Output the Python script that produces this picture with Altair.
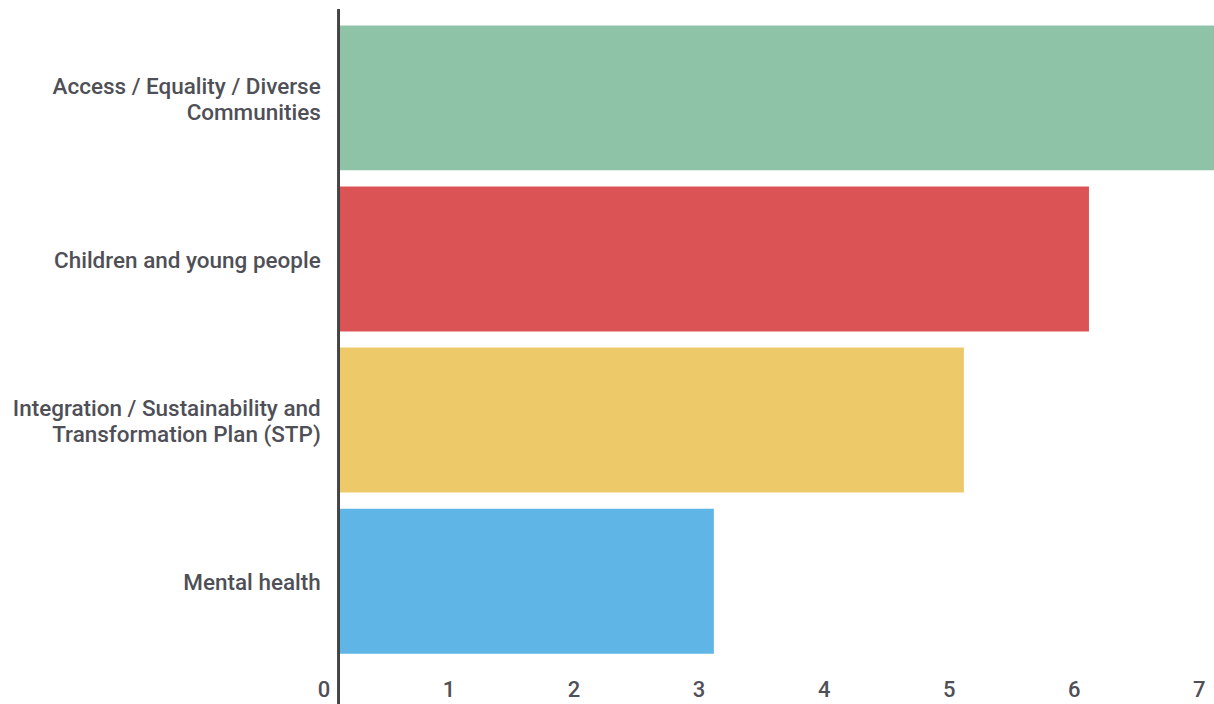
import altair as alt
import pandas as pd

categories = [
    "Access / Equality / Diverse Communities",
    "Children and young people",
    "Integration / Sustainability and Transformation Plan (STP)",
    "Mental health",
]
label_lines = [
    ["Access / Equality / Diverse", "Communities"],
    ["Children and young people"],
    ["Integration / Sustainability and", "Transformation Plan (STP)"],
    ["Mental health"],
]
values = [7, 6, 5, 3]
colors = ["#8fc3a7", "#dc5355", "#edc96a", "#5fb5e5"]
x_ticks = [0, 1, 2, 3, 4, 5, 6, 7]

df = pd.DataFrame({"category": categories, "value": values,
                   "lines": label_lines,
                   "nlines": [len(l) for l in label_lines]})

FONT = "Roboto"
FS = 22.5
LABEL_COLOR = "#4f4f57"
LH = 26

y_enc = alt.Y("category:N", sort=categories, title=None,
              scale=alt.Scale(paddingInner=0.1, paddingOuter=0.1),
              axis=None)

bars = alt.Chart(df).mark_bar().encode(
    y=y_enc,
    x=alt.X("value:Q", title=None, scale=alt.Scale(domain=[0, 7], nice=False),
            axis=alt.Axis(values=x_ticks, labelFont=FONT, labelFontSize=FS - 0.5,
                          labelFontWeight=500, labelColor=LABEL_COLOR,
                          labelAlign="right", labelOffset=-9, labelPadding=10,
                          labelFlush=False, labelOverlap=False,
                          ticks=False, domain=False, grid=False, format="d")),
    color=alt.Color("category:N", scale=alt.Scale(domain=categories, range=colors),
                    legend=None),
)

def label_layer(n, dy):
    return alt.Chart(df).transform_filter(alt.datum.nlines == n).mark_text(
        align="right", baseline="middle", font=FONT, fontSize=FS, fontWeight=500,
        color=LABEL_COLOR, lineHeight=LH, dy=dy, clip=False
    ).encode(y=y_enc, x=alt.value(-18), text="lines")

one_line = label_layer(1, 2)
two_line = label_layer(2, -LH / 2 + 2)

axis_line = alt.Chart(df).mark_rule(color="#444444", strokeWidth=2.5, clip=False).encode(
    x=alt.value(0), y=alt.value(0), y2=alt.value(700)
)

chart = alt.layer(bars, one_line, two_line, axis_line).properties(
    width=876, height=661,
    background="white",
    autosize=alt.AutoSizeParams(type="none"),
    padding={"left": 339, "top": 9, "right": 0, "bottom": 34},
).configure_view(strokeWidth=0, stroke="transparent")

chart.save("out.html", embed_options={"renderer": "svg", "actions": False})
